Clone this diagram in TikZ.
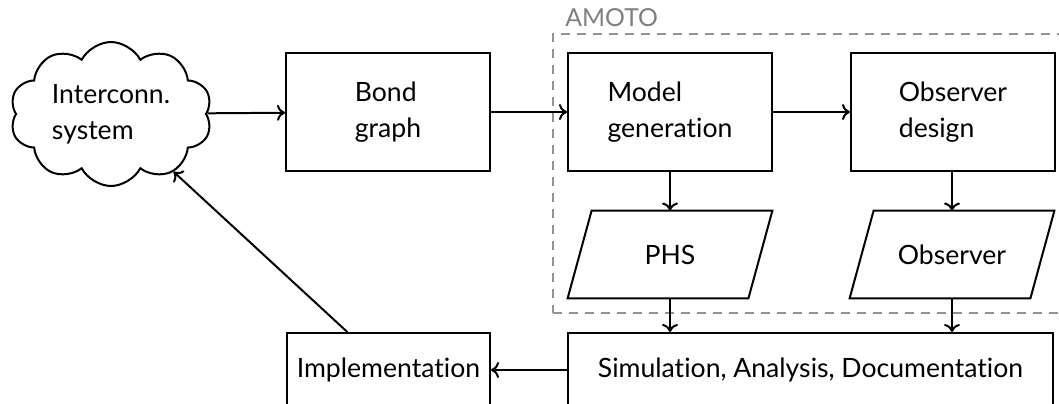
\documentclass[tikz,border=0pt]{standalone}
\usepackage{fontspec}
\setmainfont{Lato}[Ligatures=NoCommon]
\usetikzlibrary{shapes.symbols,fit,calc,arrows.meta}
\begin{document}
\begin{tikzpicture}[x=0.5pt,y=-0.5pt,
  font=\fontsize{13.3}{18}\selectfont,
  block/.style={draw,line width=1pt,minimum width=102pt,minimum height=59pt,align=left,inner sep=0pt},
  lowblock/.style={draw,line width=1pt,minimum height=37pt,inner sep=0pt},
  iodata/.style={minimum width=90pt,minimum height=43.5pt,inner sep=0pt},
  slanted/.style={line width=1pt,line join=miter},
  conn/.style={-{Computer Modern Rightarrow[length=4pt,width=8pt]},line width=1pt},
  groupbox/.style={draw=gray!85,line width=1pt,dash pattern=on 4.5pt off 3.5pt,inner sep=0pt}
]
\useasboundingbox (0,0) rectangle (1059,403);

% source system
\node[cloud,draw,line width=1pt,cloud puffs=10,cloud puff arc=125,cloud ignores aspect,
      minimum width=101pt,minimum height=72pt,align=left,inner sep=0pt] (sys) at (111,114) {Interconn.\\system};

% processing chain
\node[block] (bond)  at (388,112) {Bond\\graph};
\node[block] (model) at (670,112) {Model\\generation};
\node[block] (obsd)  at (953,112) {Observer\\design};

% generated artefacts (parallelograms)
\node[iodata] (phs) at (670,254.5) {PHS};
\node[iodata] (obs) at (952,254.5) {Observer};
\foreach \n in {phs,obs}{
  \draw[slanted] ([xshift=-6pt]\n.south west) -- ([xshift=-6pt]\n.south east)
    -- ([xshift=6pt]\n.north east) -- ([xshift=6pt]\n.north west) -- cycle;
}

% downstream steps
\node[lowblock,minimum width=242.5pt] (sim)  at (810.5,370) {Simulation, Analysis, Documentation};
\node[lowblock,minimum width=101.5pt] (impl) at (388.5,370) {Implementation};

% tool boundary
\coordinate (gtl) at ($(model.north west)+(-7pt,9pt)$);
\coordinate (gbr) at ($(obsd.east |- phs.south)+(7pt,-7.5pt)$);
\node[groupbox,fit=(gtl)(gbr)] (amoto) {};
\node[anchor=base west,text=gray,font=\fontsize{12.4}{15}\selectfont,inner sep=0pt]
  (amotolbl) at ([xshift=6.5pt,yshift=3.5pt]amoto.north west) {AMOTO};

% connectors
\draw[conn] (sys) -- (bond);
\draw[conn] (bond) -- (model);
\draw[conn] (model) -- (obsd);
\draw[conn] (model) -- (phs);
\draw[conn] (obsd.south -| obs.north) -- (obs.north);
\draw[conn] (phs.south) -- (phs.south |- sim.north);
\draw[conn] (obs.south) -- (obs.south |- sim.north);
\draw[conn] (sim) -- (impl);
\draw[conn] (impl) -- (sys);
\end{tikzpicture}
\end{document}
